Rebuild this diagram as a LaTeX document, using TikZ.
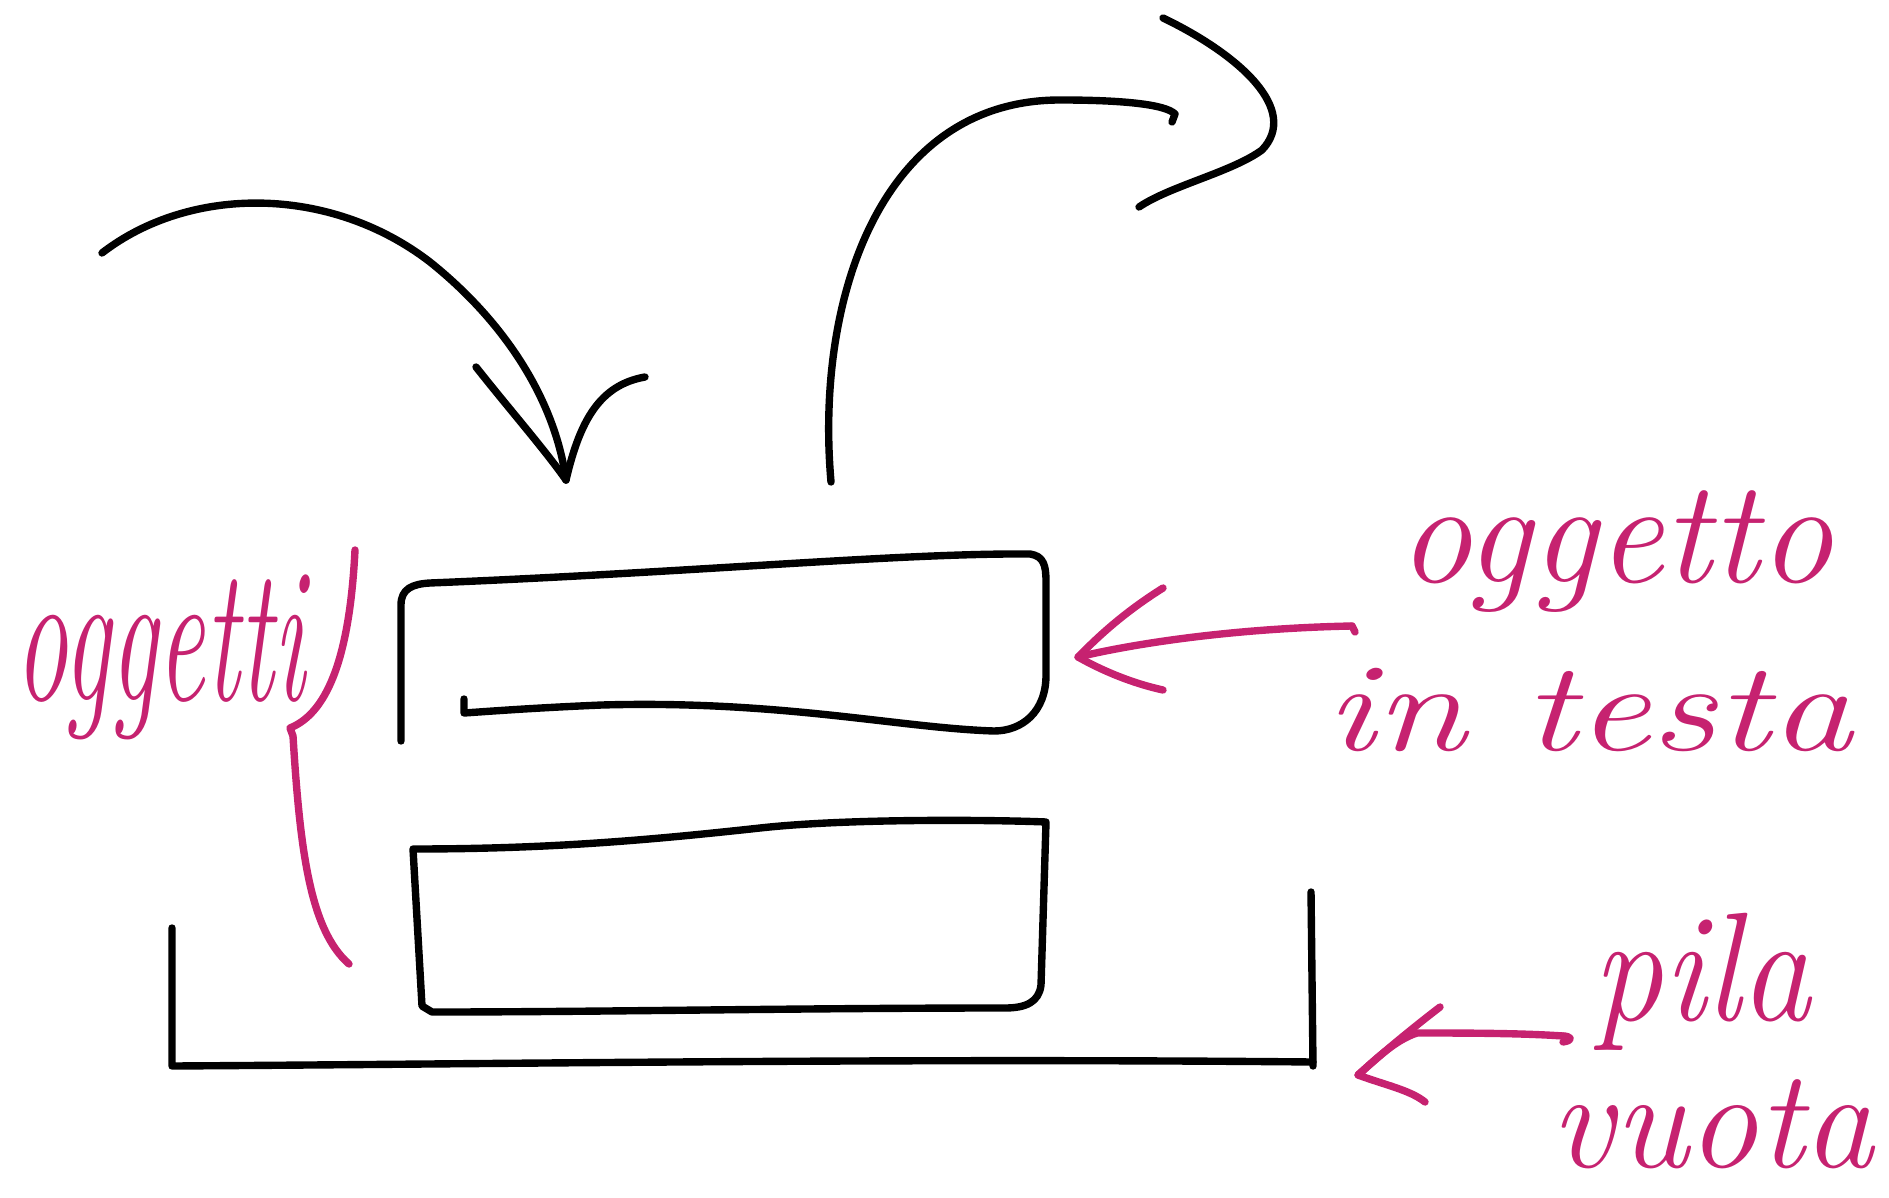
\documentclass[tikz,border=0pt]{standalone}
\usepackage{fontspec}
\definecolor{hand}{RGB}{198,34,112}
\begin{document}
\begin{tikzpicture}[x=0.01cm,y=-0.01cm,
  ink/.style={line width=2.1pt,line cap=round,line join=round,draw=black},
  pinkink/.style={line width=2.1pt,line cap=round,line join=round,draw=hand},
  lbl/.style={text=hand,inner sep=0pt,anchor=base west}]
\useasboundingbox (0,0) rectangle (1889,1198);

% ---- named points
\coordinate (pushStart) at (102,253);
\coordinate (pushTip) at (566,480);
\coordinate (popStart) at (831,482);
\coordinate (popEnd) at (1175,114);
\coordinate (topTip) at (1078,657);
\coordinate (topFrom) at (1352,626);
\coordinate (emptyTip) at (1358,1075);
\coordinate (emptyFrom) at (1563,1036);
\coordinate (braceTop) at (355,550);
\coordinate (braceMid) at (290,728);
\coordinate (braceEnd) at (349,964);

% ---- top element (oggetto in testa)
\draw[ink] (401,741) -- (401,605) .. controls (401,589) and (412,584) .. (430,583)
  .. controls (700,572) and (900,553) .. (1030,554)
  .. controls (1044,556) and (1046,566) .. (1046,582) -- (1046,675)
  .. controls (1046,712) and (1022,731) .. (994,731)
  .. controls (900,728) and (780,700) .. (602,705)
  .. controls (530,708) and (480,712) .. (464,713) -- (464,699);

% ---- second element
\draw[ink] (413,849) .. controls (550,849) and (650,840) .. (760,828)
  .. controls (850,818) and (1000,820) .. (1046,822) -- (1041,985)
  .. controls (1039,1002) and (1026,1008) .. (1005,1008)
  .. controls (800,1008) and (600,1012) .. (432,1012) -- (422,1006) -- cycle;

% ---- container (stack)
\draw[ink] (172,928) -- (172,1066) .. controls (500,1064) and (900,1058) .. (1313,1062);
\draw[ink] (1311,892) -- (1313,1066);

% ---- push arrow
\draw[ink] (pushStart) .. controls (190,185) and (330,185) .. (430,262)
  .. controls (505,322) and (555,400) .. (pushTip);
\draw[ink] (476,367) .. controls (510,410) and (545,450) .. (pushTip);
\draw[ink] (pushTip) .. controls (580,420) and (600,385) .. (645,377);

% ---- pop arrow
\draw[ink] (popStart) .. controls (815,300) and (880,100) .. (1060,100)
  .. controls (1120,100) and (1165,104) .. (popEnd) -- (1172,122);
\draw[ink] (1163,18) .. controls (1240,55) and (1300,110) .. (1262,150)
  .. controls (1232,172) and (1170,186) .. (1139,207);

% ---- labels
\node[lbl,font=\itshape\fontsize{44}{44}\selectfont] (lblObjs) at (15,700) {\scalebox{0.68}[1.25]{oggetti}};
\node[lbl,font=\itshape\fontsize{38}{38}\selectfont] (lblTop1) at (1398,583) {\scalebox{1.1}[1.1]{oggetto}};
\node[lbl,font=\itshape\fontsize{36}{36}\selectfont] (lblTop2) at (1325,750) {\scalebox{1.3}[1]{in testa}};
\node[lbl,font=\itshape\fontsize{40}{40}\selectfont] (lblEmpty1) at (1592,1020) {\scalebox{1}[1.1]{pila}};
\node[lbl,font=\itshape\fontsize{40}{40}\selectfont] (lblEmpty2) at (1550,1167) {vuota};

% ---- brace for "oggetti"
\draw[pinkink] (braceTop) .. controls (350,650) and (330,712) .. (braceMid) -- (293,736)
  .. controls (300,850) and (310,930) .. (braceEnd);

% ---- pink arrow: oggetto in testa
\draw[pinkink] (topFrom) -- ++(3,6);
\draw[pinkink] (topFrom) .. controls (1250,628) and (1150,640) .. (topTip);
\draw[pinkink] (1163,588) .. controls (1120,615) and (1095,640) .. (topTip)
  .. controls (1110,675) and (1140,685) .. (1163,690);

% ---- pink arrow: pila vuota
\draw[pinkink] (emptyFrom) .. controls (1570,1036) and (1575,1040) .. (1563,1042);
\draw[pinkink] (emptyFrom) .. controls (1520,1033) and (1460,1033) .. (1417,1033)
  .. controls (1395,1040) and (1375,1060) .. (emptyTip);
\draw[pinkink] (1440,1007) .. controls (1410,1030) and (1380,1055) .. (emptyTip)
  .. controls (1385,1085) and (1410,1090) .. (1425,1102);
\end{tikzpicture}
\end{document}
